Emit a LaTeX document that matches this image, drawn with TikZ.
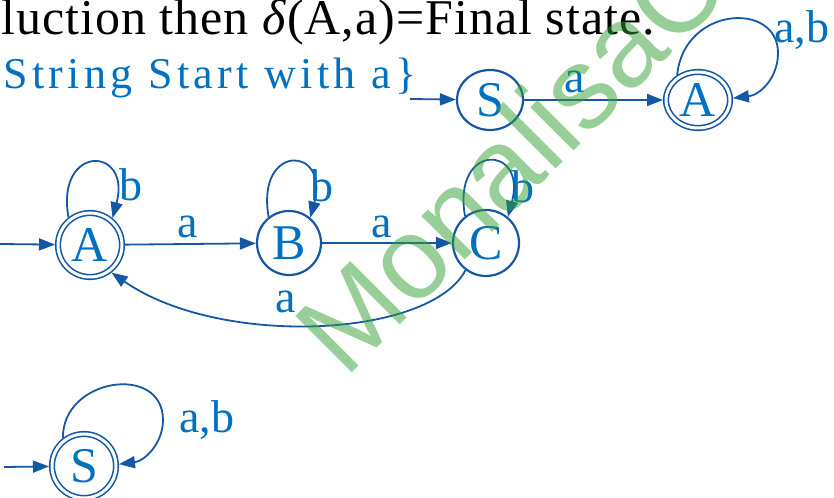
\documentclass[tikz,border=0pt]{standalone}
\usepackage{fontspec}
\setmainfont{Liberation Serif}
\newfontfamily\wmfont{Liberation Sans}
\newfontfamily\bluefont[LetterSpace=10]{Liberation Serif}
\newfontfamily\blackfont[LetterSpace=2]{Liberation Serif}
\usetikzlibrary{arrows.meta,shapes.geometric}
\definecolor{lc}{RGB}{20,88,165}
\definecolor{tc}{RGB}{0,112,192}
\definecolor{wm}{RGB}{50,160,50}
\begin{document}
\begin{tikzpicture}[x=1bp,y=1bp,
  st/.style={circle,draw=lc,line width=2.2bp,minimum size=64bp,inner sep=0pt,text=tc,font=\fontsize{50bp}{54bp}\selectfont},
  acc/.style={st,double,line width=1.6bp,double distance=3bp,outer sep=3bp},
  tst/.style={ellipse,draw=lc,line width=2.2bp,inner sep=0pt,text=tc,font=\fontsize{50bp}{54bp}\selectfont},
  arr/.style={draw=lc,line width=1.8bp,-{Triangle[length=16bp,width=12bp]}},
  lbl/.style={text=tc,font=\fontsize{46bp}{50bp}\selectfont,inner sep=0pt,anchor=base},
]
\useasboundingbox (0,0) rectangle (834,498);
\begin{scope}
\clip (0,0) rectangle (834,498);
% texts
\node[anchor=base west,inner sep=0pt,font=\blackfont\fontsize{50bp}{56bp}\selectfont] (t1) at (1,463) {luction then \textit{δ}(A,a)=Final state.};
\node[anchor=base west,inner sep=0pt,text=tc,font=\bluefont\fontsize{44bp}{48bp}\selectfont] (t2) at (3,409) {String Start with a\}};
% top automaton
\node[tst,minimum width=66bp,minimum height=60bp] (tS) at (490,398) {S};
\node[tst,double,line width=1.6bp,double distance=3bp,outer sep=3bp,minimum width=64bp,minimum height=56bp] (tA) at (698,398) {A};
\coordinate (i1) at (410,399);
\draw[arr] (i1) -- (tS);
\draw[arr] (tS) -- (tA);
\node[lbl] (la1) at (575,405) {a};
\draw[arr] (tA.130) .. controls (684,492) and (778,497) .. (778,445) .. controls (778,420) and (760,403) .. (tA.3);
\node[lbl] (lab1) at (802,455) {a,b};
% middle automaton
\node[acc] (mA) at (90,253) {A};
\node[st] (mB) at (289,255) {B};
\node[st,minimum size=66bp] (mC) at (486,255) {C};
\coordinate (i2) at (0,254);
\draw[arr] (i2) -- (mA);
\draw[arr] (mA) -- (mB);
\draw[arr] (mB) -- (mC);
\node[lbl] (la2) at (188,260) {a};
\node[lbl] (la3) at (382,260) {a};
\draw[arr] (mA.128) .. controls +(100:75) and +(75:75) .. (mA.50);
\draw[arr] (mB.128) .. controls +(100:75) and +(75:75) .. (mB.50);
\draw[arr] (mC.128) .. controls +(100:75) and +(75:75) .. (mC.50);
\node[lbl] (lb1) at (131,297) {b};
\node[lbl] (lb2) at (322,296) {b};
\node[lbl] (lb3) at (523,295) {b};
\draw[arr] (mC.233) .. controls (430,160) and (220,150) .. (mA.308);
\node[lbl] (la4) at (286,185) {a};
% bottom automaton
\node[acc] (bS) at (84,32) {S};
\coordinate (i3) at (4,31);
\draw[arr] (i3) -- (bS);
\draw[arr] (bS.127) .. controls (62,120) and (163,135) .. (163,78) .. controls (163,55) and (145,37) .. (bS.3);
\node[lbl] (lab2) at (207,65) {a,b};
% watermark
\node[anchor=base west,inner sep=0pt,rotate=45,text=wm,text opacity=0.5,font=\wmfont\fontsize{116bp}{120bp}\selectfont] (wmk) at (345,118) {MonalisaCS};
\end{scope}
\end{tikzpicture}
\end{document}
